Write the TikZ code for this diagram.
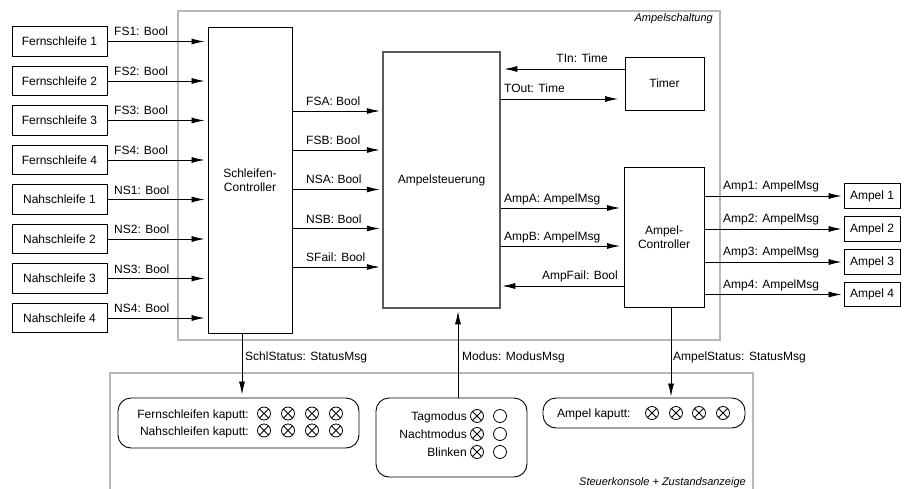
\documentclass[tikz,border=0pt]{standalone}
\usepackage{fontspec}
\setmainfont{Liberation Sans}
\usetikzlibrary{arrows.meta}
\begin{document}
\begin{tikzpicture}[x=1pt,y=-1pt,
  every node/.style={font=\fontsize{12pt}{13.5pt}\selectfont},
  box/.style={draw, line width=0.9pt, inner sep=0pt, align=center},
  frame/.style={draw=black!28, line width=1.3pt},
  arr/.style={-{Latex[length=13pt,width=6pt]}, line width=0.85pt},
  lbl/.style={inner sep=0pt},
  ital/.style={inner sep=0pt, font=\fontsize{11pt}{13pt}\selectfont\itshape},
  rbox/.style={draw, line width=0.9pt, rounded corners=13pt, inner sep=0pt},
  xc/.pic={\draw[line width=0.8pt] (0,0) circle (6.5pt) (-4.6,-4.6) -- (4.6,4.6) (-4.6,4.6) -- (4.6,-4.6);},
  oc/.pic={\draw[line width=0.8pt] (0,0) circle (6.5pt);}
]
\useasboundingbox (0,0) rectangle (904,489);

% frames
\draw[frame] (178,11) rectangle (720,340);
\node[ital, anchor=base east] (tAS) at (713,22) {Ampelschaltung};
\draw[frame] (110,489) -- (110,373) -- (753,373) -- (753,489);
\node[ital, anchor=base east] (tSK) at (746,485) {Steuerkonsole + Zustandsanzeige};

% left boxes
\foreach \i/\y in {1/41.5,2/81,3/120.5,4/160}
  \node[box, minimum width=95pt, minimum height=29.5pt] (f\i) at (59.5,\y) {Fernschleife \i};
\foreach \i/\y in {1/199.5,2/239,3/278.5,4/318}
  \node[box, minimum width=95pt, minimum height=29.5pt] (n\i) at (59.5,\y) {Nahschleife \i};

% main blocks
\node[box, minimum width=84pt, minimum height=306pt] (sc) at (250,180) {Schleifen-\\Controller};
\node[box, draw=black!65, line width=2.5pt, minimum width=117pt, minimum height=256pt] (as) at (441.5,180) {Ampelsteuerung};
\node[box, minimum width=79pt, minimum height=53pt] (tm) at (664.5,83.5) {Timer};
\node[box, minimum width=80pt, minimum height=140pt] (ac) at (664,237) {Ampel-\\Controller};
\foreach \i/\y in {1/196,2/229,3/262,4/294.5}
  \node[box, minimum width=56pt, minimum height=24.5pt] (a\i) at (872,\y) {Ampel \i};

% inputs to Schleifen-Controller
\foreach \i in {1,...,4}{
  \draw[arr, shorten >=3pt] (f\i.east) -- (f\i.east -| sc.west);
  \draw[arr, shorten >=3pt] (n\i.east) -- (n\i.east -| sc.west);
}
\foreach \i/\y in {1/36,2/75.5,3/115,4/154.5}
  \node[lbl, anchor=base west] (lf\i) at (114,\y) {FS\i: Bool};
\foreach \i/\y in {1/194,2/233.5,3/273,4/312.5}
  \node[lbl, anchor=base west] (ln\i) at (114,\y) {NS\i: Bool};

% Schleifen-Controller -> Ampelsteuerung
\foreach \y/\t in {111/FSA,150/FSB,189.5/NSA,228.5/NSB,267/SFail}{
  \draw[arr, shorten >=2pt] (sc.east |- 0,\y) -- (as.west |- 0,\y);
  \node[lbl, anchor=base west] (l\t) at (306,\y-5.5) {\t: Bool};
}

% Timer
\draw[arr, shorten >=3pt] (tm.west |- 0,69) -- (as.east |- 0,69);
\node[lbl, anchor=base east] (lTIn) at (608,63) {TIn: Time};
\draw[arr, shorten >=6.5pt] (as.east |- 0,99) -- (tm.west |- 0,99);
\node[lbl, anchor=base west] (lTOut) at (504,93) {TOut: Time};

% Ampelsteuerung <-> Ampel-Controller
\draw[arr, shorten >=3.5pt] (as.east |- 0,208) -- (ac.west |- 0,208);
\node[lbl, anchor=base west] (lAmpA) at (504,202) {AmpA: AmpelMsg};
\draw[arr, shorten >=3.5pt] (as.east |- 0,246) -- (ac.west |- 0,246);
\node[lbl, anchor=base west] (lAmpB) at (504,240) {AmpB: AmpelMsg};
\draw[arr, shorten >=1pt] (ac.west |- 0,286) -- (as.east |- 0,286);
\node[lbl, anchor=base east] (lAmpF) at (618,279.5) {AmpFail: Bool};

% Ampel-Controller -> Ampeln
\foreach \i in {1,...,4}
  \draw[arr, shorten >=2pt] (ac.east |- a\i.west) -- (a\i.west);
\foreach \i/\y in {1/189.5,2/222.5,3/255.5,4/288.5}
  \node[lbl, anchor=base west] (lamp\i) at (723,\y) {Amp\i: AmpelMsg};

% bottom boxes
\node[rbox, minimum width=241pt, minimum height=50pt] (b1) at (238.5,423) {};
\node[rbox, minimum width=151pt, minimum height=79pt] (b2) at (451.5,437.5) {};
\node[rbox, minimum width=202pt, minimum height=30pt] (b3) at (644,413) {};

% vertical connectors
\draw[arr, shorten >=3pt] (sc.south -| 242,0) -- (b1.north -| 242,0);
\node[lbl, anchor=base west] (lSchl) at (245,360) {SchlStatus: StatusMsg};
\draw[arr, shorten >=2pt] (b2.north -| 458,0) -- (as.south -| 458,0);
\node[lbl, anchor=base west] (lMod) at (462,360) {Modus: ModusMsg};
\draw[arr, shorten >=1pt] (ac.south -| 671,0) -- (b3.north -| 671,0);
\node[lbl, anchor=base west] (lAmpS) at (673,360) {AmpelStatus: StatusMsg};

% box 1 content
\node[lbl, anchor=base east] (tF) at (249,418) {Fernschleifen kaputt:};
\node[lbl, anchor=base east] (tN) at (249,435) {Nahschleifen kaputt:};
\foreach \x in {264,288,312,336}{
  \pic at (\x,413.5) {xc};
  \pic at (\x,430.5) {xc};
}

% box 2 content
\foreach \y/\t in {416/Tagmodus,434/Nachtmodus,452/Blinken}{
  \node[lbl, anchor=base east] (t\t) at (467,\y+4.5) {\t};
  \pic at (477,\y) {xc};
  \pic at (500,\y) {oc};
}

% box 3 content
\node[lbl, anchor=base west] (tA) at (557,417.5) {Ampel kaputt:};
\foreach \x in {652,676,699,723}
  \pic at (\x,413) {xc};
\end{tikzpicture}
\end{document}
